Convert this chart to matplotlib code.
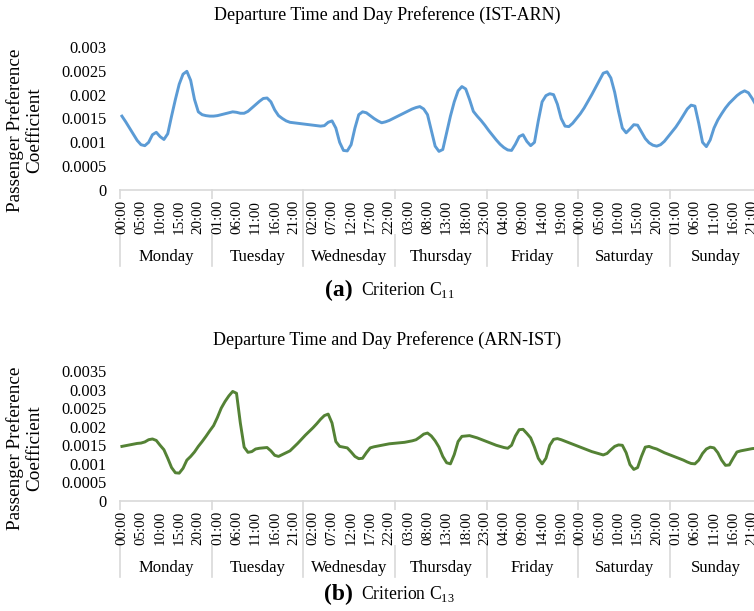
import numpy as np
import matplotlib
matplotlib.use("Agg")
import matplotlib.pyplot as plt

plt.rcParams['font.family'] = ['Liberation Serif', 'DejaVu Serif']
plt.rcParams['mathtext.fontset'] = 'custom'
plt.rcParams['mathtext.rm'] = 'Liberation Serif'
plt.rcParams['mathtext.bf'] = 'Liberation Serif:bold'

days = ["Monday", "Tuesday", "Wednesday", "Thursday", "Friday", "Saturday", "Sunday"]
hours = [f"{h % 24:02d}:00" for h in range(168)]

# C11 (IST-ARN), one value per hour of the week
c11 = [0.00155, 0.00143, 0.00130, 0.00117, 0.00104, 0.00095, 0.00093, 0.00100, 0.00116, 0.00121,
       0.00112, 0.00106, 0.00118, 0.00155, 0.00190, 0.00222, 0.00243, 0.00249, 0.00230, 0.00190,
       0.00164, 0.00158, 0.00156, 0.00155, 0.00155, 0.00156, 0.00158, 0.00160, 0.00162, 0.00164,
       0.00163, 0.00161, 0.00161, 0.00165, 0.00172, 0.00179, 0.00186, 0.00192, 0.00193, 0.00185,
       0.00168, 0.00156, 0.00150, 0.00145, 0.00142, 0.00141, 0.00140, 0.00139, 0.00138, 0.00137,
       0.00136, 0.00135, 0.00134, 0.00135, 0.00142, 0.00145, 0.00130, 0.00100, 0.00083, 0.00082,
       0.00095, 0.00130, 0.00158, 0.00164, 0.00162, 0.00156, 0.00150, 0.00145, 0.00141, 0.00143,
       0.00146, 0.00150, 0.00154, 0.00158, 0.00162, 0.00166, 0.00170, 0.00173, 0.00175, 0.00170,
       0.00158, 0.00125, 0.00092, 0.00081, 0.00085, 0.00120, 0.00155, 0.00185, 0.00208, 0.00217,
       0.00212, 0.00190, 0.00165, 0.00155, 0.00146, 0.00136, 0.00125, 0.00115, 0.00105, 0.00096,
       0.00089, 0.00084, 0.00083, 0.00096, 0.00112, 0.00116, 0.00102, 0.00093, 0.00100, 0.00145,
       0.00185, 0.00198, 0.00202, 0.00200, 0.00180, 0.00150, 0.00134, 0.00133, 0.00140, 0.00150,
       0.00160, 0.00172, 0.00186, 0.00200, 0.00215, 0.00230, 0.00245, 0.00248, 0.00235, 0.00205,
       0.00165, 0.00130, 0.00120, 0.00128, 0.00137, 0.00136, 0.00122, 0.00108, 0.00099, 0.00094,
       0.00092, 0.00095, 0.00102, 0.00112, 0.00122, 0.00132, 0.00144, 0.00157, 0.00170, 0.00178,
       0.00176, 0.00140, 0.00100, 0.00091, 0.00105, 0.00130, 0.00147, 0.00160, 0.00172, 0.00182,
       0.00190, 0.00198, 0.00204, 0.00208, 0.00204, 0.00192, 0.00178, 0.00165]

# C13 (ARN-IST)
c13 = [0.00147, 0.00149, 0.00151, 0.00153, 0.00155, 0.00156, 0.00159, 0.00165, 0.00167, 0.00163,
       0.00150, 0.00138, 0.00115, 0.00090, 0.00076, 0.00075, 0.00088, 0.00110, 0.00120, 0.00132,
       0.00147, 0.00160, 0.00174, 0.00189, 0.00203, 0.00225, 0.00250, 0.00268, 0.00283, 0.00295,
       0.00290, 0.00210, 0.00145, 0.00131, 0.00133, 0.00140, 0.00142, 0.00143, 0.00144, 0.00135,
       0.00123, 0.00120, 0.00125, 0.00130, 0.00135, 0.00145, 0.00155, 0.00166, 0.00177, 0.00187,
       0.00197, 0.00208, 0.00220, 0.00230, 0.00234, 0.00210, 0.00160, 0.00147, 0.00145, 0.00143,
       0.00132, 0.00120, 0.00114, 0.00115, 0.00130, 0.00143, 0.00146, 0.00148, 0.00150, 0.00152,
       0.00154, 0.00155, 0.00156, 0.00157, 0.00158, 0.00160, 0.00162, 0.00165, 0.00172, 0.00180,
       0.00183, 0.00175, 0.00162, 0.00145, 0.00120, 0.00103, 0.00100, 0.00125, 0.00160, 0.00174,
       0.00175, 0.00176, 0.00173, 0.00170, 0.00166, 0.00162, 0.00158, 0.00154, 0.00150, 0.00147,
       0.00144, 0.00142, 0.00150, 0.00175, 0.00192, 0.00193, 0.00182, 0.00170, 0.00145, 0.00115,
       0.00100, 0.00115, 0.00150, 0.00166, 0.00168, 0.00165, 0.00161, 0.00157, 0.00153, 0.00149,
       0.00145, 0.00141, 0.00137, 0.00133, 0.00130, 0.00127, 0.00124, 0.00128, 0.00138, 0.00147,
       0.00151, 0.00150, 0.00130, 0.00098, 0.00085, 0.00090, 0.00120, 0.00145, 0.00147, 0.00143,
       0.00140, 0.00135, 0.00130, 0.00126, 0.00122, 0.00118, 0.00114, 0.00110, 0.00105, 0.00101,
       0.00100, 0.00110, 0.00128, 0.00140, 0.00145, 0.00143, 0.00130, 0.00110, 0.00096, 0.00097,
       0.00115, 0.00132, 0.00135, 0.00137, 0.00139, 0.00141, 0.00142, 0.00143]

W, H = 754, 611
fig = plt.figure(figsize=(W / 100, H / 100), dpi=100)
x = np.arange(168) + 0.5
grey = "#d9d9d9"


def panel(top, bottom, vals, color, ymax, title, title_y, letter, sub, cap_y):
    ax = fig.add_axes([120 / W, (H - bottom) / H, 168 * 3.82 / W, (bottom - top) / H])
    ax.plot(x, vals, color=color, lw=2.1, solid_joinstyle="round", zorder=3)
    ax.set_xlim(0, 168)
    ax.set_ylim(0, ymax)
    yt = np.arange(0, ymax + 1e-9, 0.0005)
    ax.set_yticks(yt)
    ax.set_yticklabels([f"{v:g}" for v in yt], fontsize=11.8)
    ax.set_xticks(x[::5])
    ax.set_xticklabels(hours[::5], rotation=90, fontsize=10.8)
    for lbl in ax.get_xticklabels():
        lbl.set_bbox(dict(facecolor="white", edgecolor="none", pad=0.3))
    ax.tick_params(length=0)
    ax.tick_params(axis="y", pad=9.5)
    ax.tick_params(axis="x", pad=7)
    for s in ["top", "right", "left"]:
        ax.spines[s].set_visible(False)
    ax.spines["bottom"].set_color(grey)
    ax.spines["bottom"].set_linewidth(1.2)
    hpx = bottom - top
    for d in range(8):
        ax.plot([d * 24, d * 24], [0, -76 / hpx], color=grey, lw=1.2, zorder=1,
                transform=ax.get_xaxis_transform(), clip_on=False)
    for d, name in enumerate(days):
        ax.text(d * 24 + 12, -67 / hpx, name, transform=ax.get_xaxis_transform(),
                ha="center", va="center", fontsize=12)
    fig.text(387.5 / W, (H - title_y) / H, title, ha="center", va="center", fontsize=13)
    mid = (H - (top + bottom) / 2 - 12) / H
    fig.text(25 / W, mid, "Passenger Preference\nCoefficient", rotation=90, ha="center",
             va="center", multialignment="center", fontsize=13.8, linespacing=1.2)
    fig.text(353 / W, (H - cap_y) / H, letter, ha="right", va="center", fontsize=17, fontweight="bold")
    fig.text(361 / W, (H - cap_y) / H, "Criterion C$_{" + sub + "}$", ha="left", va="center", fontsize=12.7)
    return ax


panel(47, 190, c11, "#5b9bd5", 0.003, "Departure Time and Day Preference (IST-ARN)", 15, "(a)", "11", 290)
panel(371, 501, c13, "#548235", 0.0035, "Departure Time and Day Preference (ARN-IST)", 340, "(b)", "13", 594)

fig.savefig("out.png", dpi=100)
